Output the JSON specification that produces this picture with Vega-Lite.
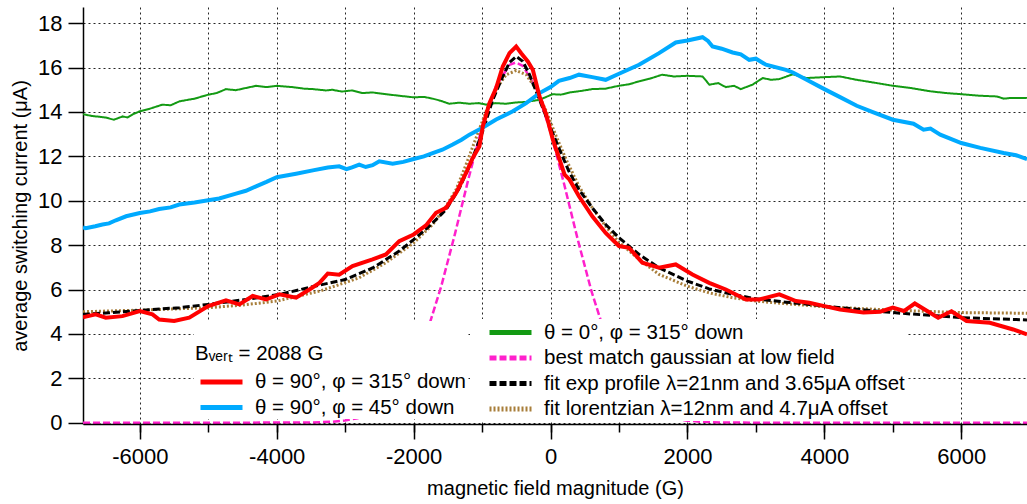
{
  "$schema": "https://vega.github.io/schema/vega-lite/v6.json",
  "width": 944,
  "height": 417,
  "autosize": {"type": "none"},
  "padding": {"left": 83, "top": 7, "right": 0, "bottom": 80},
  "background": "white",
  "data": {"name": "d"},
  "datasets": {
    "d": [
      {"k":"g","x":-6830,"y":13.9},{"k":"g","x":-6700,"y":13.82},{"k":"g","x":-6640,"y":13.8},{"k":"g","x":-6500,"y":13.75},{"k":"g","x":-6380,"y":13.65},{"k":"g","x":-6250,"y":13.8},{"k":"g","x":-6180,"y":13.75},{"k":"g","x":-6100,"y":13.9},{"k":"g","x":-6000,"y":14.03},{"k":"g","x":-5850,"y":14.15},{"k":"g","x":-5670,"y":14.33},{"k":"g","x":-5550,"y":14.3},{"k":"g","x":-5420,"y":14.48},{"k":"g","x":-5200,"y":14.6},{"k":"g","x":-5000,"y":14.78},{"k":"g","x":-4880,"y":14.85},{"k":"g","x":-4740,"y":15.03},{"k":"g","x":-4600,"y":14.98},{"k":"g","x":-4450,"y":15.08},{"k":"g","x":-4300,"y":15.18},{"k":"g","x":-4150,"y":15.12},{"k":"g","x":-4000,"y":15.18},{"k":"g","x":-3770,"y":15.12},{"k":"g","x":-3600,"y":15.05},{"k":"g","x":-3470,"y":15.03},{"k":"g","x":-3280,"y":14.97},{"k":"g","x":-3190,"y":15.0},{"k":"g","x":-3050,"y":14.92},{"k":"g","x":-2900,"y":14.97},{"k":"g","x":-2750,"y":14.85},{"k":"g","x":-2600,"y":14.88},{"k":"g","x":-2400,"y":14.8},{"k":"g","x":-2210,"y":14.73},{"k":"g","x":-2000,"y":14.66},{"k":"g","x":-1850,"y":14.68},{"k":"g","x":-1720,"y":14.6},{"k":"g","x":-1600,"y":14.5},{"k":"g","x":-1480,"y":14.37},{"k":"g","x":-1330,"y":14.42},{"k":"g","x":-1190,"y":14.37},{"k":"g","x":-1050,"y":14.4},{"k":"g","x":-940,"y":14.33},{"k":"g","x":-800,"y":14.4},{"k":"g","x":-650,"y":14.37},{"k":"g","x":-500,"y":14.43},{"k":"g","x":-360,"y":14.45},{"k":"g","x":-160,"y":14.55},{"k":"g","x":30,"y":14.8},{"k":"g","x":150,"y":14.78},{"k":"g","x":280,"y":14.88},{"k":"g","x":450,"y":14.95},{"k":"g","x":610,"y":15.03},{"k":"g","x":800,"y":15.05},{"k":"g","x":1000,"y":15.18},{"k":"g","x":1150,"y":15.25},{"k":"g","x":1290,"y":15.38},{"k":"g","x":1450,"y":15.5},{"k":"g","x":1630,"y":15.68},{"k":"g","x":1800,"y":15.6},{"k":"g","x":2000,"y":15.63},{"k":"g","x":2220,"y":15.6},{"k":"g","x":2320,"y":15.23},{"k":"g","x":2450,"y":15.3},{"k":"g","x":2560,"y":15.12},{"k":"g","x":2680,"y":15.18},{"k":"g","x":2780,"y":15.03},{"k":"g","x":2950,"y":15.23},{"k":"g","x":3100,"y":15.53},{"k":"g","x":3220,"y":15.45},{"k":"g","x":3340,"y":15.48},{"k":"g","x":3540,"y":15.7},{"k":"g","x":3740,"y":15.53},{"k":"g","x":4000,"y":15.57},{"k":"g","x":4230,"y":15.6},{"k":"g","x":4470,"y":15.45},{"k":"g","x":4770,"y":15.3},{"k":"g","x":5000,"y":15.18},{"k":"g","x":5260,"y":15.08},{"k":"g","x":5550,"y":14.93},{"k":"g","x":5790,"y":14.85},{"k":"g","x":6000,"y":14.8},{"k":"g","x":6280,"y":14.73},{"k":"g","x":6520,"y":14.7},{"k":"g","x":6620,"y":14.6},{"k":"g","x":6720,"y":14.63},{"k":"g","x":6960,"y":14.63},

      {"k":"m","x":-6830,"y":0},{"k":"m","x":-4500,"y":0},{"k":"m","x":-3500,"y":0.01},{"k":"m","x":-3200,"y":0.04},{"k":"m","x":-3000,"y":0.1},{"k":"m","x":-2820,"y":0.2},{"k":"m","x":-2600,"y":0.45},{"k":"m","x":-2400,"y":0.86},{"k":"m","x":-2200,"y":1.55},{"k":"m","x":-2000,"y":2.62},{"k":"m","x":-1800,"y":4.13},{"k":"m","x":-1600,"y":6.11},{"k":"m","x":-1400,"y":8.46},{"k":"m","x":-1200,"y":10.98},{"k":"m","x":-1000,"y":13.32},{"k":"m","x":-800,"y":15.15},{"k":"m","x":-600,"y":16.12},{"k":"m","x":-510,"y":16.23},{"k":"m","x":-400,"y":16.07},{"k":"m","x":-200,"y":15.0},{"k":"m","x":0,"y":13.1},{"k":"m","x":200,"y":10.73},{"k":"m","x":400,"y":8.22},{"k":"m","x":600,"y":5.9},{"k":"m","x":800,"y":3.96},{"k":"m","x":1000,"y":2.49},{"k":"m","x":1200,"y":1.47},{"k":"m","x":1400,"y":0.81},{"k":"m","x":1600,"y":0.42},{"k":"m","x":1800,"y":0.2},{"k":"m","x":2000,"y":0.09},{"k":"m","x":2200,"y":0.04},{"k":"m","x":2500,"y":0.01},{"k":"m","x":3000,"y":0},{"k":"m","x":6960,"y":0},

      {"k":"o","x":-6830,"y":5.0},{"k":"o","x":-6000,"y":5.07},{"k":"o","x":-5000,"y":5.18},{"k":"o","x":-4500,"y":5.3},{"k":"o","x":-4000,"y":5.48},{"k":"o","x":-3370,"y":5.93},{"k":"o","x":-3185,"y":6.12},{"k":"o","x":-2795,"y":6.53},{"k":"o","x":-2405,"y":7.21},{"k":"o","x":-2000,"y":8.1},{"k":"o","x":-1722,"y":8.93},{"k":"o","x":-1527,"y":9.75},{"k":"o","x":-1380,"y":10.5},{"k":"o","x":-1234,"y":11.63},{"k":"o","x":-1088,"y":12.83},{"k":"o","x":-941,"y":14.03},{"k":"o","x":-795,"y":15.03},{"k":"o","x":-649,"y":15.68},{"k":"o","x":-500,"y":15.87},{"k":"o","x":-356,"y":15.68},{"k":"o","x":-210,"y":15.03},{"k":"o","x":-63,"y":14.03},{"k":"o","x":83,"y":12.9},{"k":"o","x":229,"y":11.85},{"k":"o","x":415,"y":10.65},{"k":"o","x":610,"y":9.68},{"k":"o","x":805,"y":8.85},{"k":"o","x":1000,"y":8.13},{"k":"o","x":1293,"y":7.36},{"k":"o","x":1585,"y":6.68},{"k":"o","x":2000,"y":6.15},{"k":"o","x":2317,"y":5.85},{"k":"o","x":2659,"y":5.63},{"k":"o","x":3000,"y":5.48},{"k":"o","x":3439,"y":5.36},{"k":"o","x":3780,"y":5.28},{"k":"o","x":4000,"y":5.22},{"k":"o","x":5000,"y":5.07},{"k":"o","x":6000,"y":4.96},{"k":"o","x":6960,"y":4.93},

      {"k":"k","x":-6830,"y":4.88},{"k":"k","x":-6450,"y":4.95},{"k":"k","x":-6000,"y":5.06},{"k":"k","x":-5420,"y":5.18},{"k":"k","x":-5000,"y":5.33},{"k":"k","x":-4450,"y":5.55},{"k":"k","x":-3960,"y":5.78},{"k":"k","x":-3470,"y":6.13},{"k":"k","x":-3000,"y":6.45},{"k":"k","x":-2600,"y":6.97},{"k":"k","x":-2210,"y":7.73},{"k":"k","x":-2000,"y":8.25},{"k":"k","x":-1771,"y":8.85},{"k":"k","x":-1527,"y":9.6},{"k":"k","x":-1332,"y":10.57},{"k":"k","x":-1185,"y":11.55},{"k":"k","x":-1000,"y":13.05},{"k":"k","x":-844,"y":14.55},{"k":"k","x":-698,"y":15.6},{"k":"k","x":-600,"y":16.23},{"k":"k","x":-502,"y":16.5},{"k":"k","x":-405,"y":16.28},{"k":"k","x":-307,"y":15.68},{"k":"k","x":-161,"y":14.55},{"k":"k","x":0,"y":13.28},{"k":"k","x":132,"y":12.3},{"k":"k","x":268,"y":11.33},{"k":"k","x":415,"y":10.5},{"k":"k","x":610,"y":9.68},{"k":"k","x":805,"y":8.93},{"k":"k","x":1000,"y":8.33},{"k":"k","x":1293,"y":7.58},{"k":"k","x":1585,"y":6.98},{"k":"k","x":2000,"y":6.38},{"k":"k","x":2317,"y":6.03},{"k":"k","x":2659,"y":5.78},{"k":"k","x":3000,"y":5.58},{"k":"k","x":3439,"y":5.43},{"k":"k","x":3780,"y":5.33},{"k":"k","x":4000,"y":5.25},{"k":"k","x":5000,"y":4.96},{"k":"k","x":6000,"y":4.73},{"k":"k","x":6960,"y":4.63},

      {"k":"b","x":-6830,"y":8.8},{"k":"b","x":-6790,"y":8.76},{"k":"b","x":-6650,"y":8.85},{"k":"b","x":-6546,"y":8.93},{"k":"b","x":-6450,"y":8.98},{"k":"b","x":-6350,"y":9.12},{"k":"b","x":-6200,"y":9.3},{"k":"b","x":-6000,"y":9.45},{"k":"b","x":-5850,"y":9.52},{"k":"b","x":-5717,"y":9.63},{"k":"b","x":-5550,"y":9.7},{"k":"b","x":-5424,"y":9.83},{"k":"b","x":-5200,"y":9.92},{"k":"b","x":-5000,"y":10.02},{"k":"b","x":-4840,"y":10.1},{"k":"b","x":-4595,"y":10.32},{"k":"b","x":-4450,"y":10.45},{"k":"b","x":-4302,"y":10.65},{"k":"b","x":-4150,"y":10.85},{"k":"b","x":-4000,"y":11.06},{"k":"b","x":-3717,"y":11.22},{"k":"b","x":-3473,"y":11.37},{"k":"b","x":-3254,"y":11.5},{"k":"b","x":-3088,"y":11.55},{"k":"b","x":-2980,"y":11.42},{"k":"b","x":-2900,"y":11.5},{"k":"b","x":-2795,"y":11.63},{"k":"b","x":-2700,"y":11.52},{"k":"b","x":-2600,"y":11.6},{"k":"b","x":-2502,"y":11.78},{"k":"b","x":-2307,"y":11.67},{"k":"b","x":-2150,"y":11.75},{"k":"b","x":-2000,"y":11.88},{"k":"b","x":-1850,"y":12.0},{"k":"b","x":-1722,"y":12.15},{"k":"b","x":-1580,"y":12.3},{"k":"b","x":-1429,"y":12.53},{"k":"b","x":-1300,"y":12.75},{"k":"b","x":-1185,"y":12.98},{"k":"b","x":-1000,"y":13.28},{"k":"b","x":-795,"y":13.66},{"k":"b","x":-551,"y":14.03},{"k":"b","x":-356,"y":14.4},{"k":"b","x":-161,"y":14.85},{"k":"b","x":0,"y":15.12},{"k":"b","x":122,"y":15.4},{"k":"b","x":278,"y":15.53},{"k":"b","x":415,"y":15.68},{"k":"b","x":610,"y":15.57},{"k":"b","x":805,"y":15.45},{"k":"b","x":1000,"y":15.72},{"k":"b","x":1293,"y":16.13},{"k":"b","x":1585,"y":16.65},{"k":"b","x":1829,"y":17.13},{"k":"b","x":2000,"y":17.22},{"k":"b","x":2220,"y":17.37},{"k":"b","x":2300,"y":17.2},{"k":"b","x":2366,"y":16.95},{"k":"b","x":2500,"y":16.85},{"k":"b","x":2659,"y":16.68},{"k":"b","x":2780,"y":16.6},{"k":"b","x":2902,"y":16.35},{"k":"b","x":3000,"y":16.4},{"k":"b","x":3146,"y":16.13},{"k":"b","x":3439,"y":15.9},{"k":"b","x":3540,"y":15.78},{"k":"b","x":3741,"y":15.45},{"k":"b","x":4000,"y":15.03},{"k":"b","x":4229,"y":14.67},{"k":"b","x":4473,"y":14.28},{"k":"b","x":4717,"y":13.98},{"k":"b","x":5000,"y":13.65},{"k":"b","x":5302,"y":13.47},{"k":"b","x":5449,"y":13.2},{"k":"b","x":5550,"y":13.25},{"k":"b","x":5693,"y":12.98},{"k":"b","x":6000,"y":12.6},{"k":"b","x":6278,"y":12.38},{"k":"b","x":6619,"y":12.15},{"k":"b","x":6800,"y":12.05},{"k":"b","x":6960,"y":11.88},

      {"k":"r","x":-6830,"y":4.75},{"k":"r","x":-6790,"y":4.78},{"k":"r","x":-6644,"y":4.88},{"k":"r","x":-6498,"y":4.73},{"k":"r","x":-6254,"y":4.8},{"k":"r","x":-6000,"y":5.03},{"k":"r","x":-5815,"y":4.88},{"k":"r","x":-5717,"y":4.65},{"k":"r","x":-5498,"y":4.58},{"k":"r","x":-5278,"y":4.73},{"k":"r","x":-5000,"y":5.25},{"k":"r","x":-4741,"y":5.51},{"k":"r","x":-4546,"y":5.33},{"k":"r","x":-4351,"y":5.71},{"k":"r","x":-4156,"y":5.55},{"k":"r","x":-3961,"y":5.78},{"k":"r","x":-3717,"y":5.63},{"k":"r","x":-3522,"y":6.0},{"k":"r","x":-3376,"y":6.3},{"k":"r","x":-3254,"y":6.72},{"k":"r","x":-3088,"y":6.67},{"k":"r","x":-2893,"y":7.06},{"k":"r","x":-2600,"y":7.36},{"k":"r","x":-2405,"y":7.58},{"k":"r","x":-2210,"y":8.18},{"k":"r","x":-2000,"y":8.48},{"k":"r","x":-1820,"y":8.89},{"k":"r","x":-1673,"y":9.46},{"k":"r","x":-1527,"y":9.68},{"k":"r","x":-1380,"y":10.35},{"k":"r","x":-1234,"y":11.25},{"k":"r","x":-1137,"y":11.93},{"k":"r","x":-1039,"y":12.45},{"k":"r","x":-990,"y":13.35},{"k":"r","x":-893,"y":14.4},{"k":"r","x":-795,"y":15.08},{"k":"r","x":-698,"y":16.05},{"k":"r","x":-600,"y":16.65},{"k":"r","x":-502,"y":16.95},{"k":"r","x":-429,"y":16.65},{"k":"r","x":-332,"y":16.28},{"k":"r","x":-259,"y":15.9},{"k":"r","x":-161,"y":14.7},{"k":"r","x":-63,"y":13.88},{"k":"r","x":34,"y":12.75},{"k":"r","x":132,"y":11.85},{"k":"r","x":205,"y":11.18},{"k":"r","x":278,"y":10.95},{"k":"r","x":415,"y":10.2},{"k":"r","x":610,"y":9.3},{"k":"r","x":805,"y":8.55},{"k":"r","x":1000,"y":7.96},{"k":"r","x":1146,"y":7.88},{"k":"r","x":1341,"y":7.21},{"k":"r","x":1585,"y":6.98},{"k":"r","x":1829,"y":7.13},{"k":"r","x":2073,"y":6.68},{"k":"r","x":2317,"y":6.3},{"k":"r","x":2561,"y":6.0},{"k":"r","x":2854,"y":5.55},{"k":"r","x":3049,"y":5.55},{"k":"r","x":3341,"y":5.78},{"k":"r","x":3585,"y":5.48},{"k":"r","x":3780,"y":5.4},{"k":"r","x":4000,"y":5.25},{"k":"r","x":4229,"y":5.1},{"k":"r","x":4571,"y":4.96},{"k":"r","x":4815,"y":5.0},{"k":"r","x":5000,"y":5.18},{"k":"r","x":5161,"y":5.03},{"k":"r","x":5321,"y":5.37},{"k":"r","x":5502,"y":5.03},{"k":"r","x":5662,"y":4.73},{"k":"r","x":5857,"y":5.02},{"k":"r","x":6077,"y":4.58},{"k":"r","x":6417,"y":4.5},{"k":"r","x":6758,"y":4.2},{"k":"r","x":6960,"y":3.98}
    ]
  },
  "encoding": {
    "y": {
      "field": "y", "type": "quantitative",
      "scale": {"domain": [-0.06, 18.73], "nice": false, "zero": false},
      "axis": {"values": [0,2,4,6,8,10,12,14,16,18], "tickSize": 15, "labelPadding": 6, "grid": true, "title": "average switching current (μA)", "titlePadding": 7}
    }
  },
  "layer": [
    {
      "encoding": {
        "x": {
          "field": "x", "type": "quantitative",
          "scale": {"domain": [-6830, 6960], "nice": false, "zero": false},
          "axis": {"orient": "bottom", "zindex": 1, "values": [-6000,-4000,-2000,0,2000,4000,6000], "tickSize": 15, "labelPadding": 7, "grid": false, "labelExpr": "'' + datum.value", "title": "magnetic field magnitude (G)", "titlePadding": 11}
        },
        "color": {
          "field": "k", "type": "nominal",
          "scale": {"domain": ["g","m","k","o"], "range": ["#139A13","#FF20CC","#000000","#A87E3A"]},
          "legend": {"orient": "none", "legendX": 387, "legendY": 312, "title": null, "symbolOffset": 27, "symbolType": "M-2.1,0H2.1",
            "labelExpr": "datum.label == 'g' ? 'θ = 0°, φ = 315° down' : datum.label == 'm' ? 'best match gaussian at low field' : datum.label == 'k' ? 'fit exp profile λ=21nm and 3.65μA offset' : 'fit lorentzian λ=12nm and 4.7μA offset'"}
        },
        "strokeDash": {
          "field": "k", "type": "nominal",
          "scale": {"domain": ["g","m","k","o"], "range": [[1,0],[7,3],[7,3],[2,2]]},
          "legend": {"orient": "none", "legendX": 387, "legendY": 312, "title": null, "symbolOffset": 27, "symbolType": "M-2.1,0H2.1",
            "labelExpr": "datum.label == 'g' ? 'θ = 0°, φ = 315° down' : datum.label == 'm' ? 'best match gaussian at low field' : datum.label == 'k' ? 'fit exp profile λ=21nm and 3.65μA offset' : 'fit lorentzian λ=12nm and 4.7μA offset'"}
        }
      },
      "layer": [
        {"transform": [{"filter": "datum.k == 'g'"}], "mark": {"type": "line", "strokeWidth": 2, "clip": true}},
        {"transform": [{"filter": "datum.k == 'm'"}], "mark": {"type": "line", "strokeWidth": 2.5, "clip": true}},
        {"transform": [{"filter": "datum.k == 'o'"}], "mark": {"type": "line", "strokeWidth": 3, "clip": true}},
        {"transform": [{"filter": "datum.k == 'k'"}], "mark": {"type": "line", "strokeWidth": 3, "clip": true}}
      ]
    },
    {
      "encoding": {
        "x": {
          "field": "x", "type": "quantitative",
          "scale": {"domain": [-6830, 6960], "nice": false, "zero": false},
          "axis": {"orient": "bottom", "values": [-6000,-5000,-4000,-3000,-2000,-1000,0,1000,2000,3000,4000,5000,6000], "tickSize": 8, "labels": false, "domain": false, "grid": true, "title": null}
        },
        "color": {
          "field": "k", "type": "nominal",
          "scale": {"domain": ["r","b"], "range": ["#FF0000","#00AAFF"]},
          "legend": {"orient": "none", "legendX": 111, "legendY": 314, "title": ["", "Bᵥₑᵣₜ = 2088 G"], "symbolOffset": 14, "symbolType": "M-2.1,0H2.1", "titleLineHeight": 22, "titlePadding": 5,
            "labelExpr": "datum.label == 'r' ? 'θ = 90°, φ = 315° down' : 'θ = 90°, φ = 45° down'"}
        }
      },
      "layer": [
        {"transform": [{"filter": "datum.k == 'b'"}], "mark": {"type": "line", "strokeWidth": 4, "clip": true}},
        {"transform": [{"filter": "datum.k == 'r'"}], "mark": {"type": "line", "strokeWidth": 4, "clip": true}}
      ]
    }
  ],
  "resolve": {
    "scale": {"color": "independent", "strokeDash": "independent"},
    "legend": {"color": "independent", "strokeDash": "independent"},
    "axis": {"x": "independent"}
  },
  "config": {
    "view": {"stroke": null},
    "font": "Liberation Sans",
    "axis": {
      "labelFont": "Liberation Sans", "labelFontSize": 22, "labelColor": "#000",
      "titleFont": "Liberation Sans", "titleFontSize": 20, "titleFontWeight": "normal", "titleColor": "#000",
      "domainColor": "#000", "domainWidth": 1.5, "tickColor": "#000", "tickWidth": 1.5,
      "gridColor": "#000", "gridDash": [2, 3], "gridWidth": 1, "gridOpacity": 0.85
    },
    "legend": {
      "labelFont": "Liberation Sans", "labelFontSize": 20.5, "labelColor": "#000", "labelLimit": 600, "labelOffset": 21,
      "titleFont": "Liberation Sans", "titleFontSize": 20.5, "titleFontWeight": "normal", "titleColor": "#000", "titleLimit": 600,
      "symbolSize": 400, "symbolStrokeWidth": 5,
      "fillColor": "#ffffff", "padding": 1, "rowPadding": 2.5, "direction": "vertical"
    }
  }
}
